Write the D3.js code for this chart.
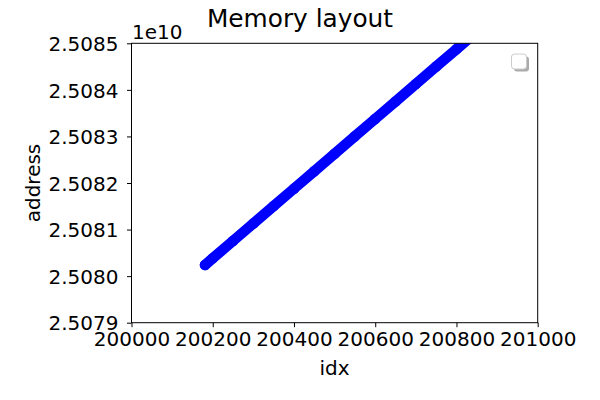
<!DOCTYPE html>
<html><head><meta charset="utf-8">
<script src="https://cdn.jsdelivr.net/npm/d3@7"></script>
<style>body{margin:0;background:#fff}svg{display:block}text{font-family:"DejaVu Sans",sans-serif;fill:#000}</style>
</head><body>
<script>
const idx = [200181, 200200, 200250, 200300, 200350, 200400, 200450, 200500, 200550, 200600, 200650, 200700, 200750, 200800, 200850];
const address = [25080240000, 25080382000, 25080757000, 25081131000, 25081505000, 25081879000, 25082254000, 25082628000, 25083002000, 25083377000, 25083751000, 25084125000, 25084500000, 25084874000, 25085248000];
const xTicks = [200000, 200200, 200400, 200600, 200800, 201000];
const yTicks = [2.5079e10, 2.5080e10, 2.5081e10, 2.5082e10, 2.5083e10, 2.5084e10, 2.5085e10];
const yTickLabels = ["2.5079", "2.5080", "2.5081", "2.5082", "2.5083", "2.5084", "2.5085"];

const W = 600, H = 400;
const m = {l: 131.5, r: 537.7, t: 43.3, b: 322.7};
const svg = d3.select("body").append("svg").attr("width", W).attr("height", H);
const x = d3.scaleLinear().domain([200000, 201000]).range([m.l, m.r]);
const y = d3.scaleLinear().domain([2.5079e10, 2.5085e10]).range([m.b, m.t]);

svg.append("clipPath").attr("id", "clip").append("rect")
  .attr("x", m.l).attr("y", m.t).attr("width", m.r - m.l).attr("height", m.b - m.t);

const pts = idx.map((d, i) => [d, address[i]]);
const g = svg.append("g").attr("clip-path", "url(#clip)");
g.append("path").datum(pts)
  .attr("d", d3.line().x(d => x(d[0])).y(d => y(d[1])))
  .attr("fill", "none").attr("stroke", "#0000ff").attr("stroke-width", 10.5).attr("stroke-linecap", "round");
g.selectAll("circle").data(pts).enter().append("circle")
  .attr("cx", d => x(d[0])).attr("cy", d => y(d[1])).attr("r", 5.3).attr("fill", "#0000ff");

const xAxis = d3.axisBottom(x).tickValues(xTicks).tickFormat(d3.format("d")).tickSizeOuter(0).tickSize(4.5).tickPadding(5);
const yAxis = d3.axisLeft(y).tickValues(yTicks).tickFormat((d, i) => yTickLabels[i]).tickSizeOuter(0).tickSize(4.5).tickPadding(8.5);
const gx = svg.append("g").attr("transform", `translate(0,${m.b})`).call(xAxis);
const gy = svg.append("g").attr("transform", `translate(${m.l},0)`).call(yAxis);
[gx, gy].forEach(a => {
  a.select(".domain").remove();
  a.selectAll("line").attr("stroke", "#000").attr("stroke-width", 1);
  a.selectAll("text").attr("font-size", 20).attr("font-family", "DejaVu Sans").attr("fill", "#000");
});
gy.selectAll("text").attr("dy", "0.36em");

svg.append("rect").attr("x", m.l).attr("y", m.t).attr("width", m.r - m.l).attr("height", m.b - m.t)
  .attr("fill", "none").attr("stroke", "#000").attr("stroke-width", 1);

// legend (empty)
svg.append("rect").attr("x", 514).attr("y", 56.5).attr("width", 15).attr("height", 15).attr("rx", 3)
  .attr("fill", "#888").attr("opacity", 0.7);
svg.append("rect").attr("x", 511.5).attr("y", 54).attr("width", 15).attr("height", 15).attr("rx", 3)
  .attr("fill", "#fff").attr("stroke", "#ccc").attr("stroke-width", 1);

svg.append("text").attr("x", 300).attr("y", 26.7).attr("text-anchor", "middle")
  .attr("font-size", 24.8).text("Memory layout");
svg.append("text").attr("x", 132).attr("y", 39.3).attr("font-size", 20).text("1e10");
svg.append("text").attr("x", (m.l + m.r) / 2).attr("y", 375).attr("text-anchor", "middle")
  .attr("font-size", 20).text("idx");
svg.append("text").attr("transform", `translate(40,${(m.t + m.b) / 2}) rotate(-90)`).attr("text-anchor", "middle")
  .attr("font-size", 20).text("address");
</script>
</body></html>
